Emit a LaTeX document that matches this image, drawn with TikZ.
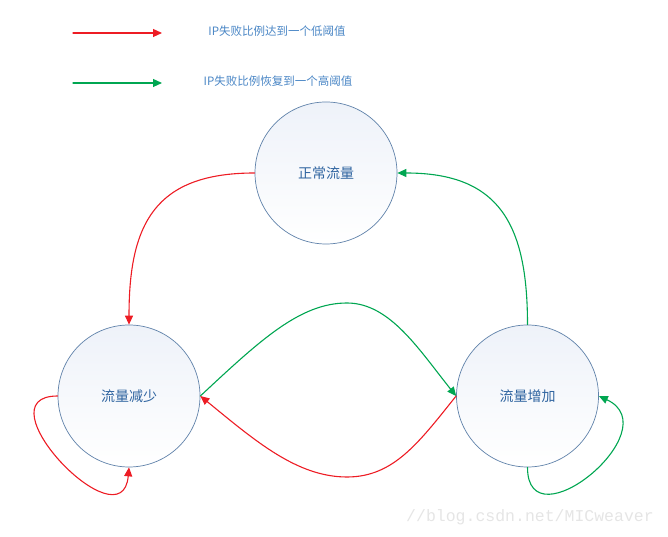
\documentclass[tikz,border=0pt]{standalone}
\usepackage{fontspec}
\setmainfont{Noto Sans CJK SC}
\newfontfamily\urlfont{Liberation Mono}
\usetikzlibrary{arrows.meta,positioning,calc}
\definecolor{lowred}{RGB}{237,28,36}
\definecolor{highgreen}{RGB}{0,166,81}
\definecolor{ringblue}{RGB}{96,130,170}
\definecolor{labelblue}{RGB}{47,100,160}
\definecolor{legendblue}{RGB}{74,134,197}
\definecolor{statefill}{RGB}{238,242,249}

\begin{document}
\begin{tikzpicture}[x=1pt,y=1pt, line cap=round,
  state/.style={circle, draw=ringblue, line width=0.7pt, minimum size=142pt, inner sep=0pt,
    top color=statefill, bottom color=white, text=labelblue, font=\fontsize{14}{16}\selectfont},
  lowarrow/.style={draw=lowred, line width=1.1pt, -{Triangle[length=9pt,width=8pt]}},
  higharrow/.style={draw=highgreen, line width=1.1pt, -{Triangle[length=9pt,width=8pt]}},
  legendtext/.style={text=legendblue, font=\fontsize{11.5}{13}\selectfont},
  urltext/.style={text=gray!20, font=\urlfont\fontsize{16.5}{18}\selectfont}]
\useasboundingbox (0,0) rectangle (668,537);
% legend
\coordinate (lowA) at (73,504);
\coordinate (lowB) at (162,504);
\coordinate (highA) at (73,454);
\coordinate (highB) at (162,454);
\draw[lowarrow] (lowA) -- (lowB);
\draw[higharrow] (highA) -- (highB);
\node[legendtext] (lowtext) at (277,506) {IP失败比例达到一个低阈值};
\node[legendtext] (hightext) at (278,456) {IP失败比例恢复到一个高阈值};
% states
\node[state] (normal) at (326,364) {正常流量};
\node[state] (down) at (129,141) {流量减少};
\node[state] (up) at (527.5,141) {流量增加};
% transitions
\draw[lowarrow] (normal.west) to[out=180,in=90,looseness=1.3] (down.north);
\draw[higharrow] (up.north) to[out=90,in=0,looseness=1.3] (normal.east);
\coordinate (gtop) at (347,234);
\coordinate (rlow) at (347,60);
\draw[higharrow] (down.east) .. controls +(60,56) and +(-47,0) .. (gtop)
  .. controls +(43,0) and +(-37,46) .. (up.west);
\draw[lowarrow] (up.west) .. controls +(-37,-46) and +(47,0) .. (rlow)
  .. controls +(-50,0) and +(55,-45) .. (down.east);
% self loops
\draw[lowarrow] (down.west) to[out=180,in=-95,looseness=2.0] (down.south);
\draw[higharrow] (up.south) to[out=-90,in=-25,looseness=2.0] (up.east);
% watermark
\node[urltext] (mark) at (530,20) {//blog.csdn.net/MICweaver};
\end{tikzpicture}
\end{document}
